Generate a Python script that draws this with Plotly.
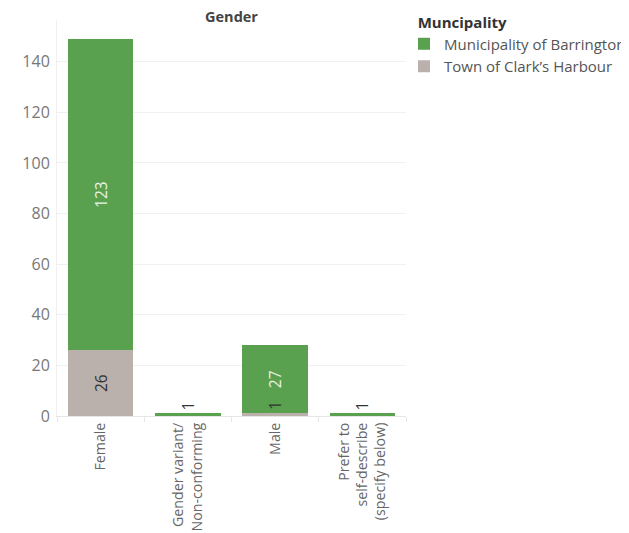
import plotly.graph_objects as go

categories = ["Female", "Gender variant/<br>Non-conforming", "Male", "Prefer to<br>self-describe<br>(specify below)"]
barrington = [123, 1, 27, 1]
clarks = [26, None, 1, None]
series_names = ["Municipality of Barrington", "Town of Clark\u2019s Harbour"]
y_ticks = [0, 20, 40, 60, 80, 100, 120, 140]

GREEN = "#59A14F"
GRAY = "#BAB0AC"
FONT = "Open Sans, Lato, sans-serif"

# page body has an 8px margin; figure coordinates = screen - 8
W, H = 621, 525
L, T = 49, 12
PW, PH = 349, 396
R = W - L - PW
B = H - T - PH

def positions(vals, thresh=5):
    return ["inside" if (v is not None and v >= thresh) else "outside" for v in vals]

def colors(vals, inside_col, thresh=5):
    return [inside_col if (v is not None and v >= thresh) else "#333333" for v in vals]

fig = go.Figure()
fig.add_trace(go.Bar(
    x=categories, y=clarks, name=series_names[1], marker_color=GRAY,
    marker_line_width=0,
    text=[("" if (v is None or v < 5) else str(v)) for v in clarks],
    textposition="inside", textangle=-90, insidetextanchor="middle",
    textfont=dict(color="#333333", size=15.5, family=FONT),
    constraintext="none", hoverinfo="skip",
))
fig.add_trace(go.Bar(
    x=categories, y=barrington, name=series_names[0], marker_color=GREEN,
    marker_line_width=0,
    text=[str(v) for v in barrington],
    textposition=positions(barrington), textangle=-90, insidetextanchor="middle",
    textfont=dict(color=colors(barrington, "#EAF2E6"), size=15.5, family=FONT),
    constraintext="none", cliponaxis=False, hoverinfo="skip",
))

# label of a thin bottom segment, drawn just above it
for c, v in zip(categories, clarks):
    if v is not None and v < 5:
        fig.add_annotation(x=c, y=v, text=str(v), showarrow=False, textangle=-90,
                           yanchor="bottom", yshift=1,
                           font=dict(color="#333333", size=15.5, family=FONT))

fig.update_layout(
    barmode="stack",
    bargap=0.25,
    width=W, height=H,
    paper_bgcolor="white", plot_bgcolor="white",
    margin=dict(l=L, r=R, t=T, b=B, autoexpand=False),
    font=dict(family=FONT, color="#666666", size=15),
    title=dict(text="<b>Gender</b>", x=0.5, xref="paper", xanchor="center",
               y=1 - 9 / H, yref="container", yanchor="middle",
               font=dict(size=14.5, color="#444444", family=FONT)),
    showlegend=True,
    legend=dict(
        x=(396 - L) / PW, y=1 + 12 / PH, xanchor="left", yanchor="top",
        traceorder="reversed",
        title=dict(text="<b>\u00a0\u00a0\u00a0Muncipality</b>", font=dict(size=15, color="#333333")),
        font=dict(size=15, color="#555555"),
        bgcolor="rgba(0,0,0,0)", itemsizing="constant", tracegroupgap=0,
    ),
    xaxis=dict(
        tickangle=-90, showgrid=False, showline=True, linecolor="#E6E6E6",
        ticks="outside", tickson="boundaries", ticklen=5, tickcolor="#E6E6E6",
        tickfont=dict(size=14.2, color="#666666"), fixedrange=True,
    ),
    yaxis=dict(
        range=[0, 156.5], tickvals=y_ticks, showgrid=True, gridcolor="#F0F0F0",
        zeroline=False, showline=True, linecolor="#F0F0F0", ticks="",
        tickfont=dict(size=16, color="#777777"), ticklabelstandoff=3,
    ),
)

fig.write_html("out.html")
